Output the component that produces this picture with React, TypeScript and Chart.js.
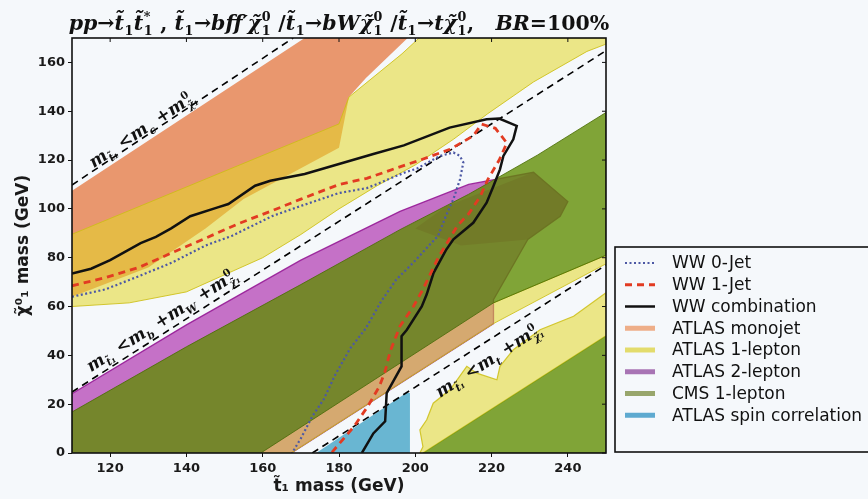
import React, { useEffect, useRef } from 'react';
import { Chart, registerables } from 'chart.js';

Chart.register(...registerables);

// ---------------- axes ----------------
const xMin = 110, xMax = 250, yMin = 0, yMax = 170;
const xTicks = [120, 140, 160, 180, 200, 220, 240];
const yTicks = [0, 20, 40, 60, 80, 100, 120, 140, 160];

// ---------------- WW limits ----------------
const ww0X = [110, 118.7, 127.5, 136.2, 145, 152, 162.4, 170, 180, 187.3, 197.4, 200.4, 206.5, 210, 211.7, 212.6, 211.7, 210, 208, 206, 203, 199.5, 195, 191, 187, 183, 179, 176, 173, 170, 167.7];
const ww0Y = [64, 67, 72.4, 78, 85, 89, 97, 101.2, 106.5, 108.5, 115, 116.5, 121.7, 123.1, 121.7, 119, 112, 104, 97, 89, 84, 78, 71, 62, 51, 43, 32, 22, 15, 6, 0];

const ww1X = [110, 118.7, 127.5, 136.2, 145, 153.7, 162.4, 170, 180, 187.3, 197.4, 200.4, 209.1, 215.2, 217.4, 221, 224, 222, 219, 217, 214, 211, 206, 202, 199.5, 196, 193.5, 192, 190.5, 187.5, 184, 181, 178];
const ww1Y = [68.5, 71.8, 76, 82, 88, 94, 99.2, 104, 110, 112.5, 118, 119.5, 124.4, 129.9, 134.7, 133, 127, 120, 112, 105, 98, 93, 80, 67, 60, 52, 42, 33, 27, 19, 11, 5.5, 0];

const wwCX = [110, 115, 120, 124, 128, 132, 136, 141, 148, 151, 158, 162, 171, 180, 189, 197, 209, 218.7, 222, 226.6, 225.7, 223.1, 222.2, 220.5, 218.7, 215.2, 210, 208, 204.8, 203, 201.7, 197.8, 196.4, 196.4, 192.5, 192.1, 189, 186];
const wwCY = [73.5, 75.5, 79, 82.5, 86, 88.5, 92, 97, 100.5, 102, 109.5, 111.5, 114.3, 118.4, 122.5, 126, 133.3, 136.7, 137, 134, 128.5, 121.7, 116.2, 109.4, 102.5, 94.3, 87.5, 83, 73.8, 65, 60, 50.5, 47.8, 35.5, 24.5, 13, 8, 0];

// ---------------- kinematic boundaries ----------------
const kinCX = [110, 168];
const kinCY = [109.8, 170];
const kinWX = [110, 250];
const kinWY = [25, 164.8];
const kinTX = [173, 250];
const kinTY = [0, 77];
const kinLabX = [128.4, 133.6, 219.2];
const kinLabY = [132.8, 54.6, 38.2];

// ---------------- exclusion regions ----------------
const monoX = [110, 171, 198, 187, 182.6, 180, 155, 145, 130, 110];
const monoY = [107.4, 170, 170, 153.5, 145.8, 125, 104, 92, 76, 64];

const lep1UpX = [110, 180, 182.6, 196.5, 201, 250, 250, 245, 231, 219, 210, 200, 190, 180, 170, 160, 150, 140, 125, 110];
const lep1UpY = [89.6, 134.8, 145.8, 163.5, 170, 170, 167.5, 164.5, 152, 139, 128.5, 118, 109.5, 100, 89.5, 80, 73, 66, 61.5, 60];
const lep1MidX = [159.5, 167.5, 220.5, 250, 250, 220.5];
const lep1MidY = [0, 0, 53, 77.5, 81, 61.5];
const lep1LowX = [201.2, 202, 201.2, 203, 204.7, 209.1, 213.5, 216.1, 221.4, 222.2, 225.7, 232.7, 241.5, 250, 250, 202];
const lep1LowY = [0, 2.6, 9.5, 13.6, 20.4, 25.9, 35.5, 32.7, 30, 35.5, 42.3, 50.5, 56, 65.6, 48, 0];

const lep2X = [110, 110, 140, 170, 196, 214, 231, 240, 238, 229.5, 220.5, 220.5, 167.5];
const lep2Y = [0, 24.3, 52.5, 79, 99, 110, 115, 103, 97, 87.5, 62.8, 53, 0];
const lep2CoreX = [208, 231, 240, 238, 229.5, 212, 200];
const lep2CoreY = [101, 115, 103, 97, 87.5, 85, 92];

const cmsX = [110, 110, 140, 170, 196, 214, 232, 250, 250, 220.5, 159.5];
const cmsY = [0, 16.8, 43.5, 69, 91.5, 106, 122, 139.5, 81, 61.5, 0];
const cmsLowX = [202, 250, 250];
const cmsLowY = [0, 0, 48];

const spinX = [174, 198.6, 198.6, 197.6];
const spinY = [0, 0, 24.6, 24.6];

// ---------------- styling ----------------
const BG = '#f5f8fb';
const COL = {
  mono: 'rgba(228,110,50,0.7)',
  lep1: 'rgba(225,215,40,0.55)',
  lep1Edge: 'rgba(205,190,20,0.85)',
  lep2: 'rgba(170,40,170,0.65)',
  lep2Edge: 'rgba(150,25,150,0.9)',
  cms: 'rgba(95,140,0,0.78)',
  cmsEdge: 'rgba(75,110,5,0.85)',
  spin: 'rgba(70,165,200,0.8)',
};
const LEG = {
  mono: '#eeae88',
  lep1: '#e3dc6c',
  lep2: '#a874b4',
  cms: '#98a66c',
  spin: '#5eaad0',
};
const SANS = '"DejaVu Sans", sans-serif';
const SERIF = '"DejaVu Serif", serif';

const pts = (xs: number[], ys: number[]) => xs.map((x, i) => ({ x, y: ys[i] }));

function region(label: string, xs: number[], ys: number[], color: string, edge: string, edgeW: number, order: number, legendColor: string | null) {
  return {
    label, data: pts(xs, ys), showLine: true, fill: 'shape', backgroundColor: color,
    borderColor: edge, borderWidth: edgeW, pointRadius: 0, tension: 0, order,
    inLegend: !!legendColor, legendColor,
  } as any;
}
function curve(label: string, xs: number[], ys: number[], color: string, width: number, dash: number[], order: number, inLegend: boolean) {
  return {
    label, data: pts(xs, ys), showLine: true, fill: false, borderColor: color, backgroundColor: color,
    borderWidth: width, borderDash: dash, pointRadius: 0, tension: 0, order, inLegend,
  } as any;
}

// ---------------- math text helpers ----------------
type Seg = { t: string; sub?: string; sup?: string; up?: boolean };
const isUp = (s: string) => /^[0-9*]+$/.test(s);
const fnt = (italic: boolean, size: number, fam: string, bold = false) =>
  `${italic ? 'italic ' : ''}${bold ? 'bold ' : ''}${size}px ${fam}`;

function segWidth(ctx: CanvasRenderingContext2D, s: Seg, S: number, fam: string, bold: boolean) {
  ctx.font = fnt(!s.up, S, fam, bold);
  const w = ctx.measureText(s.t).width;
  let e = 0;
  const s2 = S * 0.62;
  if (s.sub) { ctx.font = fnt(!isUp(s.sub), s2, fam, bold); e = Math.max(e, ctx.measureText(s.sub).width); }
  if (s.sup) { ctx.font = fnt(!isUp(s.sup), s2, fam, bold); e = Math.max(e, ctx.measureText(s.sup).width); }
  return w + (e ? e + S * 0.05 : 0);
}
function drawMath(ctx: CanvasRenderingContext2D, segs: Seg[], cx: number, baseY: number, S: number, fam: string, bold = false) {
  let total = 0;
  for (const s of segs) total += segWidth(ctx, s, S, fam, bold);
  let x = cx - total / 2;
  ctx.textAlign = 'left';
  ctx.textBaseline = 'alphabetic';
  for (const s of segs) {
    ctx.font = fnt(!s.up, S, fam, bold);
    ctx.fillText(s.t, x, baseY);
    const w = ctx.measureText(s.t).width;
    const s2 = S * 0.62;
    let e = 0;
    if (s.sub) {
      ctx.font = fnt(!isUp(s.sub), s2, fam, bold);
      ctx.fillText(s.sub, x + w + S * 0.02, baseY + S * 0.26);
      e = Math.max(e, ctx.measureText(s.sub).width);
    }
    if (s.sup) {
      ctx.font = fnt(!isUp(s.sup), s2, fam, bold);
      ctx.fillText(s.sup, x + w + S * 0.02, baseY - S * 0.42);
      e = Math.max(e, ctx.measureText(s.sup).width);
    }
    x += w + (e ? e + S * 0.05 : 0);
  }
  return total;
}

const T = 't\u0303';
const CHI = '\u03C7\u0303';
const titleSegs: Seg[] = [
  { t: 'pp' }, { t: '\u2192', up: true }, { t: T, sub: '1' }, { t: T, sub: '1', sup: '*' }, { t: ' , ', up: true },
  { t: T, sub: '1' }, { t: '\u2192', up: true }, { t: 'bff\u2032' }, { t: CHI, sub: '1', sup: '0' }, { t: ' /', up: true },
  { t: T, sub: '1' }, { t: '\u2192', up: true }, { t: 'bW' }, { t: CHI, sub: '1', sup: '0' }, { t: ' /', up: true },
  { t: T, sub: '1' }, { t: '\u2192', up: true }, { t: 't' }, { t: CHI, sub: '1', sup: '0' }, { t: ',   ', up: true },
  { t: 'BR' }, { t: '=100%', up: true },
];
const kinLabels: Seg[][] = [
  [{ t: 'm', sub: T + '\u2081' }, { t: ' <', up: true }, { t: 'm', sub: 'c' }, { t: ' +', up: true }, { t: 'm', sub: CHI + '\u2081', sup: '0' }],
  [{ t: 'm', sub: T + '\u2081' }, { t: ' <', up: true }, { t: 'm', sub: 'b' }, { t: ' +', up: true }, { t: 'm', sub: 'W' }, { t: ' +', up: true }, { t: 'm', sub: CHI + '\u2081', sup: '0' }],
  [{ t: 'm', sub: T + '\u2081' }, { t: ' <', up: true }, { t: 'm', sub: 't' }, { t: ' +', up: true }, { t: 'm', sub: CHI + '\u2081', sup: '0' }],
];
const kinLines = [[kinCX, kinCY], [kinWX, kinWY], [kinTX, kinTY]];

// ---------------- plugins ----------------
const bgPlugin = {
  id: 'bg',
  beforeDraw(chart: any) {
    const ctx = chart.ctx;
    ctx.save();
    ctx.fillStyle = BG;
    ctx.fillRect(0, 0, chart.width, chart.height);
    ctx.restore();
  },
};

const framePlugin = {
  id: 'frame',
  afterDatasetsDraw(chart: any) {
    const { ctx, chartArea: ca, scales } = chart;
    ctx.save();
    ctx.setLineDash([]);
    ctx.strokeStyle = '#111';
    ctx.lineWidth = 1.6;
    ctx.strokeRect(ca.left, ca.top, ca.right - ca.left, ca.bottom - ca.top);
    ctx.lineWidth = 1;
    ctx.beginPath();
    xTicks.forEach((v) => {
      const px = scales.x.getPixelForValue(v);
      ctx.moveTo(px, ca.top); ctx.lineTo(px, ca.top + 4);
    });
    yTicks.forEach((v) => {
      const py = scales.y.getPixelForValue(v);
      ctx.moveTo(ca.right, py); ctx.lineTo(ca.right - 4, py);
    });
    ctx.stroke();

    ctx.fillStyle = '#111';
    kinLabels.forEach((segs, i) => {
      const [lx, ly] = kinLines[i];
      const x1 = scales.x.getPixelForValue(lx[0]), y1 = scales.y.getPixelForValue(ly[0]);
      const x2 = scales.x.getPixelForValue(lx[1]), y2 = scales.y.getPixelForValue(ly[1]);
      const ang = Math.atan2(y2 - y1, x2 - x1);
      const cx = scales.x.getPixelForValue(kinLabX[i]);
      const cy = scales.y.getPixelForValue(kinLabY[i]);
      ctx.save();
      ctx.translate(cx, cy);
      ctx.rotate(ang);
      drawMath(ctx, segs, 0, 6, 17, SERIF, true);
      ctx.restore();
    });
    ctx.restore();
  },
};

const titlePlugin = {
  id: 'mathTitle',
  afterDraw(chart: any) {
    const { ctx, chartArea: ca } = chart;
    ctx.save();
    ctx.fillStyle = '#111';
    drawMath(ctx, titleSegs, (ca.left + ca.right) / 2, 30, 20.5, SERIF, true);
    ctx.restore();
  },
};

const legendPlugin = {
  id: 'boxLegend',
  afterDraw(chart: any) {
    const { ctx, chartArea: ca } = chart;
    const items = chart.data.datasets.filter((d: any) => d.inLegend);
    const left = ca.right + 9, top = 247, bottom = 452;
    ctx.save();
    ctx.setLineDash([]);
    ctx.strokeStyle = '#111';
    ctx.lineWidth = 1.6;
    ctx.strokeRect(left, top, 400, bottom - top);
    items.forEach((d: any, i: number) => {
      const y = top + 16 + i * 21.75;
      ctx.beginPath();
      ctx.moveTo(left + 10, y);
      ctx.lineTo(left + 40, y);
      if (d.fill) {
        ctx.strokeStyle = d.legendColor || d.backgroundColor;
        ctx.lineWidth = 5;
        ctx.setLineDash([]);
      } else {
        ctx.strokeStyle = d.borderColor;
        ctx.lineWidth = d.borderWidth;
        ctx.setLineDash(d.borderDash || []);
      }
      ctx.stroke();
      ctx.setLineDash([]);
      ctx.fillStyle = '#111';
      ctx.font = `17px ${SANS}`;
      ctx.textAlign = 'left';
      ctx.textBaseline = 'middle';
      ctx.fillText(d.label, left + 57, y + 1);
    });
    ctx.restore();
  },
};

export default function App() {
  const ref = useRef<HTMLCanvasElement | null>(null);

  useEffect(() => {
    if (!ref.current) return;
    const datasets = [
      curve('WW 0-Jet', ww0X, ww0Y, '#4c58a4', 2.2, [2, 2.5], 1, true),
      curve('WW 1-Jet', ww1X, ww1Y, '#e23b22', 2.8, [7, 5], 2, true),
      curve('WW combination', wwCX, wwCY, '#111111', 2.5, [], 3, true),
      region('ATLAS monojet', monoX, monoY, COL.mono, COL.mono, 0, 50, LEG.mono),
      region('ATLAS 1-lepton', lep1UpX, lep1UpY, COL.lep1, COL.lep1Edge, 1, 30, LEG.lep1),
      region('ATLAS 2-lepton', lep2X, lep2Y, COL.lep2, COL.lep2Edge, 1.3, 40, LEG.lep2),
      region('CMS 1-lepton', cmsX, cmsY, COL.cms, COL.cmsEdge, 1, 20, LEG.cms),
      region('ATLAS spin correlation', spinX, spinY, COL.spin, COL.spin, 0, 10, LEG.spin),
      region('ATLAS 1-lepton', lep1MidX, lep1MidY, COL.lep1, COL.lep1Edge, 1, 31, null),
      region('ATLAS 1-lepton', lep1LowX, lep1LowY, COL.lep1, COL.lep1Edge, 1.2, 32, null),
      region('ATLAS 2-lepton', lep2CoreX, lep2CoreY, COL.lep2, COL.lep2, 0, 41, null),
      region('CMS 1-lepton', cmsLowX, cmsLowY, COL.cms, COL.cmsEdge, 1, 21, null),
      curve('kin c', kinCX, kinCY, '#000', 1.6, [7, 5], 5, false),
      curve('kin W', kinWX, kinWY, '#000', 1.6, [7, 5], 5, false),
      curve('kin t', kinTX, kinTY, '#000', 1.6, [7, 5], 5, false),
    ];

    const tickFont = { family: SANS, size: 13, weight: 'bold' as const };
    const titleFont = { family: SANS, size: 17, weight: 'bold' as const };

    const chart = new Chart(ref.current, {
      type: 'scatter',
      data: { datasets },
      options: {
        responsive: false,
        animation: false,
        events: [],
        layout: { padding: { left: 10, right: 262, top: 38, bottom: 0 } },
        plugins: { legend: { display: false }, tooltip: { enabled: false }, title: { display: false } },
        scales: {
          x: {
            type: 'linear', min: xMin, max: xMax,
            afterBuildTicks: (s: any) => { s.ticks = xTicks.map((v) => ({ value: v })); },
            afterFit: (s: any) => { s.height = 46; },
            ticks: { font: tickFont, color: '#1a1a1a', padding: 4, maxRotation: 0, autoSkip: false },
            grid: { display: true, drawOnChartArea: false, drawTicks: true, tickLength: 4, color: '#111', lineWidth: 1 },
            border: { display: false },
            title: { display: true, text: 't\u0303\u2081 mass (GeV)', font: titleFont, color: '#1a1a1a', padding: { top: 0, bottom: 2 } },
          },
          y: {
            type: 'linear', min: yMin, max: yMax,
            afterBuildTicks: (s: any) => { s.ticks = yTicks.map((v) => ({ value: v })); },
            afterFit: (s: any) => { s.width = 62; },
            ticks: { font: tickFont, color: '#1a1a1a', padding: 3, autoSkip: false },
            grid: { display: true, drawOnChartArea: false, drawTicks: true, tickLength: 4, color: '#111', lineWidth: 1 },
            border: { display: false },
            title: { display: true, text: '\u03C7\u0303\u2070\u2081 mass (GeV)', font: titleFont, color: '#1a1a1a', padding: { top: 3, bottom: 4 } },
          },
        },
      } as any,
      plugins: [bgPlugin, framePlugin, titlePlugin, legendPlugin],
    });
    return () => chart.destroy();
  }, []);

  return (
    <div style={{ position: 'fixed', left: 0, top: 0, width: 868, height: 499, overflow: 'hidden', background: BG }}>
      <canvas ref={ref} width={868} height={499} style={{ display: 'block' }} />
    </div>
  );
}
